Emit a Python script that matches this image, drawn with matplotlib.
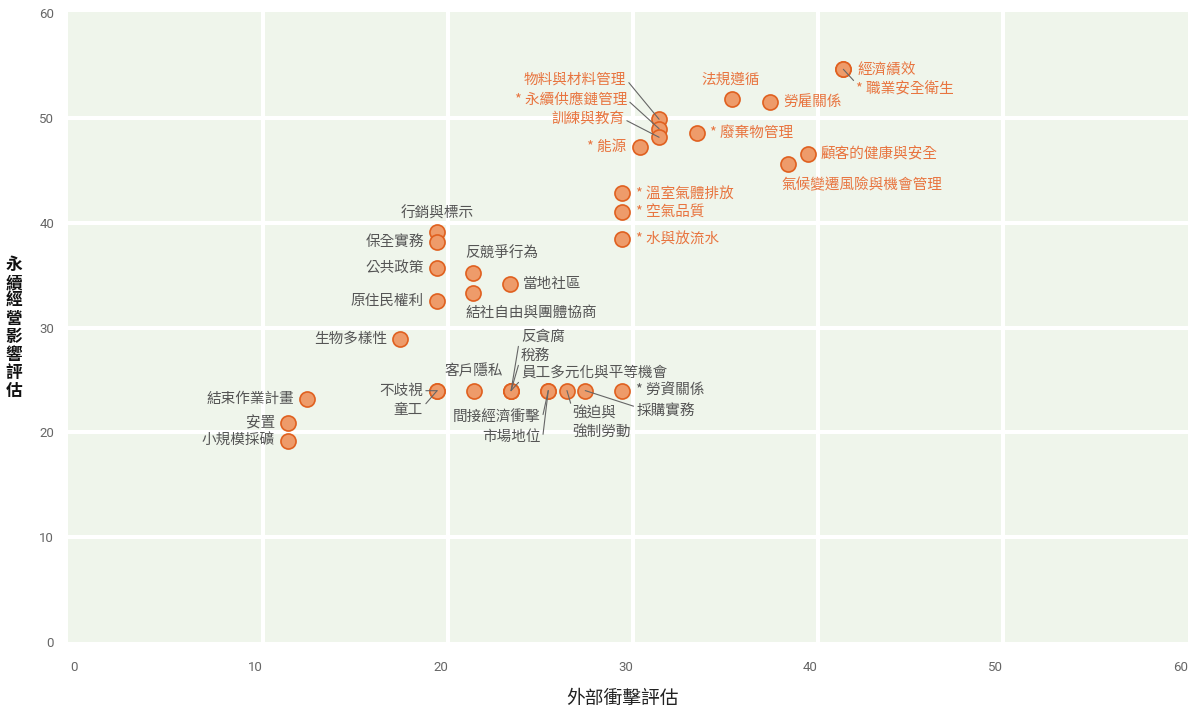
import matplotlib
matplotlib.use("Agg")
import matplotlib.pyplot as plt

plt.rcParams["font.family"] = ["Noto Sans CJK TC", "DejaVu Sans"]

ORANGE_TEXT = "#E8743F"
GRAY_TEXT = "#555555"
LEADER = "#666666"
MARKER_FACE = "#EE9B6A"
MARKER_EDGE = "#E0601F"

# material topics: external impact (x) vs sustainability impact (y)
names = [
    "經濟績效", "* 職業安全衛生", "法規遵循", "勞雇關係",
    "物料與材料管理", "* 永續供應鏈管理", "訓練與教育", "* 廢棄物管理",
    "* 能源", "顧客的健康與安全", "氣候變遷風險與機會管理",
    "* 溫室氣體排放", "* 空氣品質", "* 水與放流水",
    "行銷與標示", "保全實務", "公共政策", "原住民權利",
    "反競爭行為", "結社自由與團體協商", "當地社區", "生物多樣性",
    "結束作業計畫", "安置", "小規模採礦", "不歧視", "童工", "客戶隱私",
    "反貪腐", "稅務", "員工多元化與平等機會", "間接經濟衝擊", "市場地位",
    "強迫與\n強制勞動", "採購實務", "* 勞資關係",
]
x_impact = [
    41.37, 41.37, 35.37, 37.41,
    31.41, 31.41, 31.41, 33.44,
    30.38, 39.44, 38.39,
    29.39, 29.39, 29.39,
    19.39, 19.39, 19.39, 19.39,
    21.33, 21.33, 23.35, 17.41,
    12.39, 11.35, 11.35, 19.41, 19.41, 21.41,
    23.41, 23.41, 23.41, 25.42, 25.42,
    26.43, 27.42, 29.42,
]
y_impact = [
    54.67, 54.67, 51.84, 51.58,
    49.90, 49.00, 48.18, 48.62,
    47.23, 46.56, 45.63,
    42.83, 41.02, 38.47,
    39.11, 38.16, 35.73, 32.55,
    35.26, 33.29, 34.15, 28.93,
    23.23, 20.91, 19.19, 23.99, 23.99, 24.00,
    24.00, 24.00, 24.00, 24.00, 24.00,
    24.00, 24.00, 24.00,
]
highlighted = names[:14]
x_ticks = [0, 10, 20, 30, 40, 50, 60]
y_ticks = [0, 10, 20, 30, 40, 50, 60]

# label layout: offset in pixels, alignment, leader start on text box (or None)
label_layout = {
    "經濟績效": (14, 0, "left", None),
    "* 職業安全衛生": (13, -20, "left", (0.0, 0.9)),
    "法規遵循": (-2, 19, "center", None),
    "勞雇關係": (13, 0, "left", None),
    "物料與材料管理": (-33, 40, "right", (1.0, 0.5)),
    "* 永續供應鏈管理": (-32, 29, "right", (1.0, 0.5)),
    "訓練與教育": (-35, 18, "right", (1.0, 0.5)),
    "* 廢棄物管理": (13, 0, "left", None),
    "* 能源": (-14, 0, "right", None),
    "顧客的健康與安全": (13, 0, "left", None),
    "氣候變遷風險與機會管理": (-7, -21, "left", None),
    "* 溫室氣體排放": (14, 0, "left", None),
    "* 空氣品質": (14, 0, "left", None),
    "* 水與放流水": (14, 0, "left", None),
    "行銷與標示": (0, 19, "center", None),
    "保全實務": (-13, 0, "right", None),
    "公共政策": (-13, 0, "right", None),
    "原住民權利": (-13, 0, "right", None),
    "反競爭行為": (-7, 19, "left", None),
    "結社自由與團體協商": (-7, -20, "left", None),
    "當地社區": (13, 0, "left", None),
    "生物多樣性": (-13, 0, "right", None),
    "結束作業計畫": (-13, 0, "right", None),
    "安置": (-13, 0, "right", None),
    "小規模採礦": (-13, 0, "right", None),
    "不歧視": (-14, 0, "right", (1.0, 0.5)),
    "童工": (-14, -19, "right", (1.0, 0.7)),
    "客戶隱私": (0, 19, "center", None),
    "反貪腐": (10, 54, "left", (-0.04, 0.2)),
    "稅務": (10, 35, "left", (-0.05, 0.1)),
    "員工多元化與平等機會": (10, 18, "left", (0.0, 0.0)),
    "間接經濟衝擊": (-8, -26, "right", (1.03, 0.6)),
    "市場地位": (-8, -46, "right", (1.04, 0.4)),
    "強迫與\n強制勞動": (5, -32, "left", (0.0, 0.95)),
    "採購實務": (51, -20, "left", (0.0, 0.75)),
    "* 勞資關係": (14, 0, "left", None),
}

fig = plt.figure(figsize=(12.01, 7.11), dpi=100)
ax = fig.add_axes([68 / 1201, 1 - 642 / 711, 1120 / 1201, 630 / 711])
ax.set_facecolor("#EFF5EB")
for s in ax.spines.values():
    s.set_visible(False)

ax.set_xlim(-0.54, 60)
ax.set_ylim(0, 60.14)
ax.set_xticks(x_ticks)
ax.set_yticks(y_ticks)
# inner grid lines only (none on the plot edges)
for v in x_ticks[1:-1]:
    ax.axvline(v, color="white", linewidth=2.9, zorder=1)
for v in y_ticks[1:-1]:
    ax.axhline(v, color="white", linewidth=2.9, zorder=1)
ax.tick_params(length=0, labelsize=9.5, labelcolor="#666666")
ax.tick_params(axis="x", pad=14)
ax.tick_params(axis="y", pad=10)
for lab in ax.get_xticklabels() + ax.get_yticklabels():
    lab.set_family("Roboto")
for lab in ax.get_xticklabels():
    lab.set_ha("right")

ax.scatter(x_impact, y_impact, s=118, color=MARKER_FACE,
           edgecolors=MARKER_EDGE, linewidths=1.2, zorder=3)

for name, x, y in zip(names, x_impact, y_impact):
    dx, dy, ha, relpos = label_layout[name]
    color = ORANGE_TEXT if name in highlighted else GRAY_TEXT
    arrow = None
    if relpos is not None:
        arrow = dict(arrowstyle="-", color=LEADER, lw=0.8,
                     shrinkA=0, shrinkB=0, relpos=relpos)
    ax.annotate(name, xy=(x, y), xytext=(dx, dy), textcoords="offset pixels",
                ha=ha, va="center", fontsize=10.5, color=color,
                linespacing=1.45, arrowprops=arrow, zorder=4)

fig.text(622 / 1201, 1 - 698 / 711, "外部衝擊評估", ha="center", va="center",
         fontsize=13.5, color="#222222")
fig.text(14 / 1201, 1 - 328 / 711, "\n".join("永續經營影響評估"),
         ha="center", va="center", fontsize=12, fontweight="bold",
         color="#111111", linespacing=1.0)

fig.savefig("out.png", dpi=100)
